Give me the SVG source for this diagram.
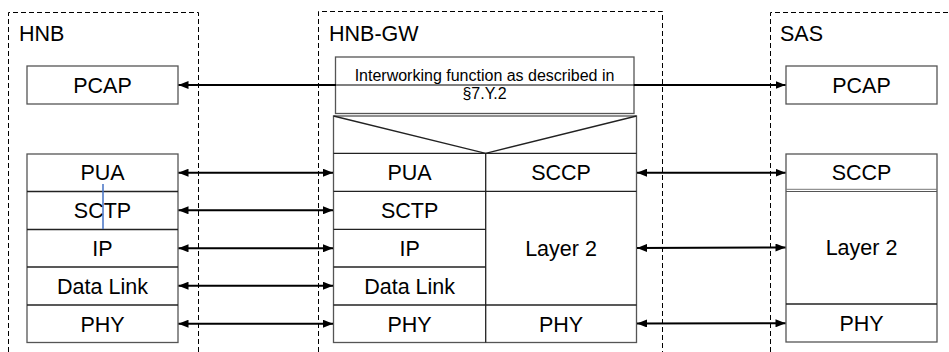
<svg xmlns="http://www.w3.org/2000/svg" width="949" height="352" viewBox="0 0 949 352">
<defs>
<style>
.dash{fill:none;stroke:#000;stroke-width:1;stroke-dasharray:5,3}
.box{fill:#fff;stroke:#555;stroke-width:1.3}
.ln{stroke:#222;stroke-width:1.3;fill:none}
.t{font-family:"Liberation Sans",Arial,sans-serif;font-size:21.5px;fill:#000;text-anchor:middle}
.lbl{font-family:"Liberation Sans",Arial,sans-serif;font-size:21.5px;fill:#000}
.s{font-family:"Liberation Sans",Arial,sans-serif;font-size:16px;fill:#000;text-anchor:middle}
.arr{stroke:#000;stroke-width:2;fill:none;marker-start:url(#ah);marker-end:url(#ah)}
</style>
<marker id="ah" viewBox="0 0 10 8" refX="10" refY="4" markerWidth="10" markerHeight="8" markerUnits="userSpaceOnUse" orient="auto-start-reverse">
<path d="M0,0 L10,4 L0,8 Z" fill="#000"/>
</marker>
</defs>

<g id="hnb">
<path class="dash" d="M8.5,360 V12.5 H198.5 V360"/>
<text class="lbl" x="19" y="41">HNB</text>
<g id="hnb-pcap"><rect class="box" x="27" y="66" width="151" height="38"/><text class="t" x="102.5" y="92.5">PCAP</text></g>
<g id="hnb-stack">
<rect class="box" x="27" y="154" width="151" height="188.5"/>
<line class="ln" x1="27" y1="191.5" x2="178" y2="191.5"/>
<line class="ln" x1="27" y1="229.5" x2="178" y2="229.5"/>
<line class="ln" x1="27" y1="267" x2="178" y2="267"/>
<line class="ln" x1="27" y1="305" x2="178" y2="305"/>
<text class="t" x="102.5" y="180">PUA</text>
<text class="t" x="102.5" y="218">SCTP</text>
<text class="t" x="102.5" y="256">IP</text>
<text class="t" x="102.5" y="293.5">Data Link</text>
<text class="t" x="102.5" y="331.5">PHY</text>
<line x1="103" y1="184" x2="103" y2="229" stroke="#4472C4" stroke-width="1.5"/>
</g>
</g>

<g id="hnbgw">
<path class="dash" d="M318.5,360 V11.5 H662.5 V360"/>
<text class="lbl" x="329" y="41">HNB-GW</text>
<g id="gw-iwf">
<rect class="box" x="335.5" y="57" width="298.5" height="56.5"/>
<text class="s" x="484.5" y="80.5">Interworking function as described in</text>
<text class="s" x="484.5" y="99">§7.Y.2</text>
</g>
<g id="gw-stack">
<rect class="box" x="333.5" y="116" width="303" height="226.5"/>
<path class="ln" d="M333.5,116 L485.7,153.3 L636.5,116"/>
<line class="ln" x1="333.5" y1="153.3" x2="636.5" y2="153.3"/>
<line class="ln" x1="485.7" y1="153.3" x2="485.7" y2="342.5"/>
<line class="ln" x1="333.5" y1="191.3" x2="636.5" y2="191.3"/>
<line class="ln" x1="333.5" y1="229.3" x2="485.7" y2="229.3"/>
<line class="ln" x1="333.5" y1="267" x2="485.7" y2="267"/>
<line class="ln" x1="333.5" y1="305" x2="636.5" y2="305"/>
<text class="t" x="409.6" y="180">PUA</text>
<text class="t" x="561" y="180">SCCP</text>
<text class="t" x="409.6" y="218">SCTP</text>
<text class="t" x="409.6" y="256">IP</text>
<text class="t" x="409.6" y="293.5">Data Link</text>
<text class="t" x="561" y="256">Layer 2</text>
<text class="t" x="409.6" y="331.5">PHY</text>
<text class="t" x="561" y="331.5">PHY</text>
</g>
</g>

<g id="sas">
<path class="dash" d="M770.5,360 V12.5 H960"/>
<text class="lbl" x="780" y="41">SAS</text>
<g id="sas-pcap"><rect class="box" x="786" y="66" width="151" height="38"/><text class="t" x="861.5" y="92.5">PCAP</text></g>
<g id="sas-stack">
<rect class="box" x="786" y="154" width="151" height="188"/>
<line x1="786" y1="189.3" x2="937" y2="189.3" stroke="#777" stroke-width="1"/>
<line x1="786" y1="191.5" x2="937" y2="191.5" stroke="#555" stroke-width="1.2"/>
<line class="ln" x1="786" y1="304" x2="937" y2="304"/>
<text class="t" x="861.5" y="180">SCCP</text>
<text class="t" x="861.5" y="255">Layer 2</text>
<text class="t" x="861.5" y="331">PHY</text>
</g>
</g>

<g id="connectors">
<line class="arr" x1="178.5" y1="85" x2="785.5" y2="85"/>
<line x1="336" y1="85" x2="633.5" y2="85" stroke="#aaa" stroke-width="1.5"/>
<line class="arr" x1="178.5" y1="172.7" x2="333" y2="172.7"/>
<line class="arr" x1="178.5" y1="210.3" x2="333" y2="210.3"/>
<line class="arr" x1="178.5" y1="248.3" x2="333" y2="248.3"/>
<line class="arr" x1="178.5" y1="285.7" x2="333" y2="285.7"/>
<line class="arr" x1="178.5" y1="323.7" x2="333" y2="323.7"/>
<line class="arr" x1="637" y1="172.7" x2="785.5" y2="172.7"/>
<line class="arr" x1="637" y1="248" x2="785.5" y2="247.5"/>
<line class="arr" x1="637" y1="323.5" x2="785.5" y2="323.3"/>
</g>
</svg>
